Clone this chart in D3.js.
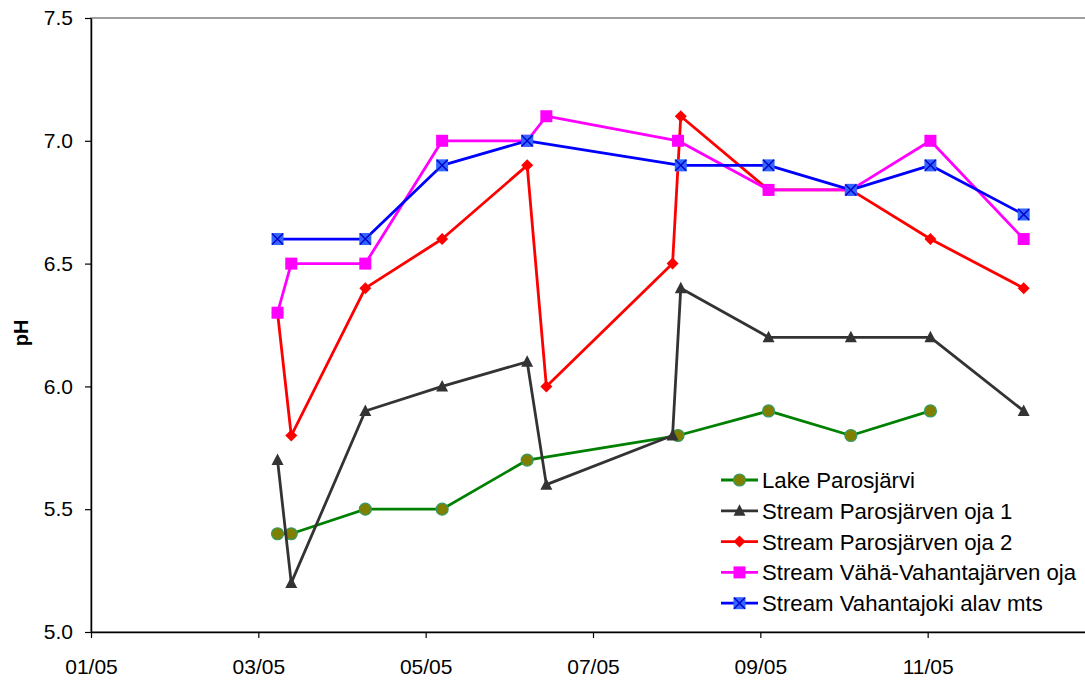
<!DOCTYPE html>
<html>
<head>
<meta charset="utf-8">
<script src="https://cdn.jsdelivr.net/npm/d3@7"></script>
<style>
  body { margin: 0; background: #fff; }
  svg { display: block; font-family: "Liberation Sans", Arial, sans-serif; }
</style>
</head>
<body>
<svg id="chart" width="1085" height="682"></svg>
<script>
// ---- data ----
const seriesNames = [
  "Lake Parosjärvi",
  "Stream Parosjärven oja 1",
  "Stream Parosjärven oja 2",
  "Stream Vähä-Vahantajärven oja",
  "Stream Vahantajoki alav mts"
];
const lakeDates = ["2005-03-10","2005-03-15","2005-04-11","2005-05-09","2005-06-09","2005-08-03","2005-09-05","2005-10-05","2005-11-03"];
const lakeValues = [5.4, 5.4, 5.5, 5.5, 5.7, 5.8, 5.9, 5.8, 5.9];
const oja1Dates = ["2005-03-10","2005-03-15","2005-04-11","2005-05-09","2005-06-09","2005-06-16","2005-08-01","2005-08-04","2005-09-05","2005-10-05","2005-11-03","2005-12-07"];
const oja1Values = [5.7, 5.2, 5.9, 6.0, 6.1, 5.6, 5.8, 6.4, 6.2, 6.2, 6.2, 5.9];
const oja2Dates = ["2005-03-10","2005-03-15","2005-04-11","2005-05-09","2005-06-09","2005-06-16","2005-08-01","2005-08-04","2005-09-05","2005-10-05","2005-11-03","2005-12-07"];
const oja2Values = [6.3, 5.8, 6.4, 6.6, 6.9, 6.0, 6.5, 7.1, 6.8, 6.8, 6.6, 6.4];
const vahaDates = ["2005-03-10","2005-03-15","2005-04-11","2005-05-09","2005-06-09","2005-06-16","2005-08-03","2005-09-05","2005-10-05","2005-11-03","2005-12-07"];
const vahaValues = [6.3, 6.5, 6.5, 7.0, 7.0, 7.1, 7.0, 6.8, 6.8, 7.0, 6.6];
const vahantajokiDates = ["2005-03-10","2005-04-11","2005-05-09","2005-06-09","2005-08-04","2005-09-05","2005-10-05","2005-11-03","2005-12-07"];
const vahantajokiValues = [6.6, 6.6, 6.9, 7.0, 6.9, 6.9, 6.8, 6.9, 6.7];
const xTickDates = ["2005-01-01","2005-03-03","2005-05-03","2005-07-03","2005-09-02","2005-11-02"];
const xTickLabels = ["01/05","03/05","05/05","07/05","09/05","11/05"];
const yTicks = [5.0, 5.5, 6.0, 6.5, 7.0, 7.5];
const xDomain = ["2005-01-01","2006-01-02"];
const yDomain = [5.0, 7.5];

// ---- styles ----
const styles = [
  {line: "#008000", width: 2.8, marker: "circle", fill: "#808000", stroke: "#339966"},
  {line: "#333333", width: 2.8, marker: "triangle", fill: "#333333", stroke: "#333333"},
  {line: "#FF0000", width: 2.8, marker: "diamond", fill: "#FF0000", stroke: "#FF0000"},
  {line: "#FF00FF", width: 2.8, marker: "square", fill: "#FF00FF", stroke: "#FF00FF"},
  {line: "#0000FF", width: 2.8, marker: "xsquare", fill: "#3366FF", stroke: "#0000CC"}
];

const parse = d3.utcParse("%Y-%m-%d");
const series = [
  [lakeDates, lakeValues],
  [oja1Dates, oja1Values],
  [oja2Dates, oja2Values],
  [vahaDates, vahaValues],
  [vahantajokiDates, vahantajokiValues]
].map(([ds, vs], i) => ({
  name: seriesNames[i],
  style: styles[i],
  points: ds.map((d, j) => ({date: parse(d), value: vs[j]}))
}));

const svg = d3.select("#chart");
const mLeft = 91, mTop = 18, mRight = 1095, mBottom = 632;

const x = d3.scaleUtc().domain(xDomain.map(parse)).range([mLeft, mRight]);
const y = d3.scaleLinear().domain(yDomain).range([mBottom, mTop]);

// plot border
svg.append("rect")
  .attr("x", mLeft).attr("y", mTop)
  .attr("width", mRight - mLeft).attr("height", mBottom - mTop)
  .attr("fill", "none").attr("stroke", "#808080").attr("stroke-width", 1.5);

// axes
const yAxis = d3.axisLeft(y).tickValues(yTicks).tickFormat(d3.format(".1f"))
  .tickSize(6).tickPadding(12).tickSizeOuter(0);
const gy = svg.append("g").attr("transform", `translate(${mLeft},0)`).call(yAxis);
const xAxis = d3.axisBottom(x).tickValues(xTickDates.map(parse))
  .tickFormat((d, i) => xTickLabels[i]).tickSize(6).tickPadding(21).tickSizeOuter(0);
const gx = svg.append("g").attr("transform", `translate(0,${mBottom})`).call(xAxis);
[gx, gy].forEach(g => {
  g.select(".domain").attr("stroke", "#000").attr("stroke-width", 1.5);
  g.selectAll(".tick line").attr("stroke", "#000").attr("stroke-width", 1.2);
  g.selectAll("text").attr("font-size", 21).attr("fill", "#000")
    .attr("font-family", "Liberation Sans, Arial, sans-serif");
});

// y title
svg.append("text")
  .attr("transform", `translate(28,${(mTop + mBottom) / 2 + 8}) rotate(-90)`)
  .attr("text-anchor", "middle")
  .attr("font-size", 20).attr("font-weight", "bold")
  .text("pH");

// marker drawing
function drawMarker(g, type, st) {
  if (type === "circle") {
    g.append("circle").attr("r", 6).attr("fill", st.fill).attr("stroke", st.stroke).attr("stroke-width", 1.2);
  } else if (type === "triangle") {
    g.append("path").attr("d", "M0,-6.5L6,5L-6,5Z").attr("fill", st.fill);
  } else if (type === "diamond") {
    g.append("path").attr("d", "M0,-6L6,0L0,6L-6,0Z").attr("fill", st.fill);
  } else if (type === "square") {
    g.append("rect").attr("x", -6).attr("y", -6).attr("width", 12).attr("height", 12).attr("fill", st.fill);
  } else if (type === "xsquare") {
    g.append("rect").attr("x", -6).attr("y", -6).attr("width", 12).attr("height", 12).attr("fill", st.fill);
    g.append("path").attr("d", "M-5.5,-5.5L5.5,5.5M5.5,-5.5L-5.5,5.5")
      .attr("stroke", st.stroke).attr("stroke-width", 1.4);
  }
}

const line = d3.line().x(d => x(d.date)).y(d => y(d.value));

series.forEach(s => {
  const g = svg.append("g");
  g.append("path").datum(s.points).attr("d", line)
    .attr("fill", "none").attr("stroke", s.style.line).attr("stroke-width", s.style.width)
    .attr("stroke-linejoin", "round");
  g.selectAll("g.m").data(s.points).enter().append("g")
    .attr("transform", d => `translate(${x(d.date)},${y(d.value)})`)
    .each(function() { drawMarker(d3.select(this), s.style.marker, s.style); });
});

// legend
const legend = svg.append("g").attr("transform", "translate(721,480)");
series.forEach((s, i) => {
  const row = legend.append("g").attr("transform", `translate(0,${i * 30.8})`);
  row.append("line").attr("x1", 0).attr("x2", 37).attr("y1", 0).attr("y2", 0)
    .attr("stroke", s.style.line).attr("stroke-width", s.style.width);
  const mg = row.append("g").attr("transform", "translate(18.5,0)");
  drawMarker(mg, s.style.marker, s.style);
  row.append("text").attr("x", 41).attr("y", 0).attr("dy", "0.36em")
    .attr("font-size", 22.2).attr("fill", "#000").text(s.name);
});
</script>
</body>
</html>
